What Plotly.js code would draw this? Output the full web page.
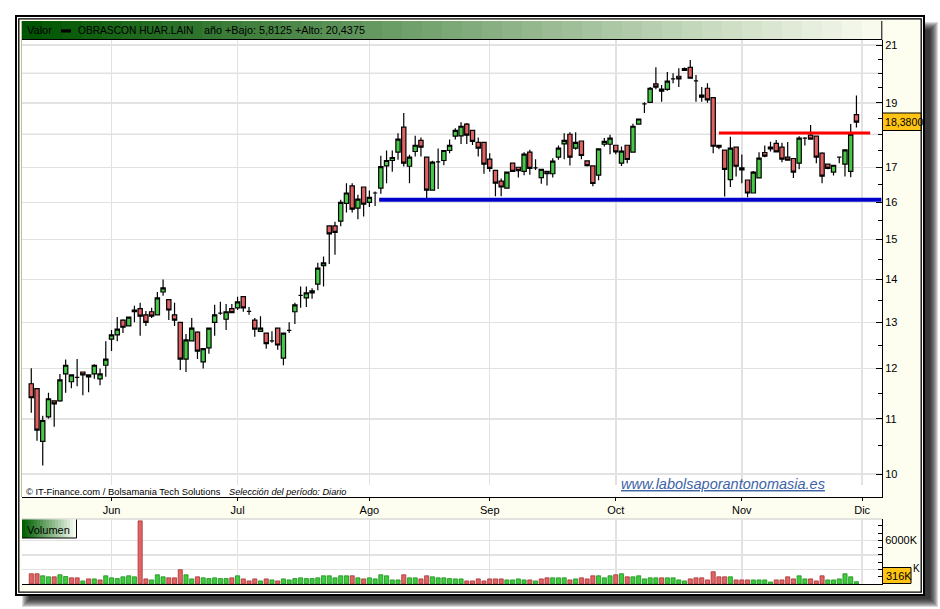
<!DOCTYPE html>
<html><head><meta charset="utf-8">
<script src="https://cdn.plot.ly/plotly-3.0.1.min.js"></script>
<style>html,body{margin:0;padding:0;background:#fff;}#chart{width:940px;height:609px;}</style>
</head><body><div id="chart"></div>
<script>
const dates = [
"2009-05-12","2009-05-13","2009-05-14","2009-05-15","2009-05-18","2009-05-19","2009-05-20","2009-05-21","2009-05-22","2009-05-25","2009-05-26","2009-05-27","2009-05-28","2009-05-29",
"2009-06-01","2009-06-02","2009-06-03","2009-06-04","2009-06-05","2009-06-08","2009-06-09","2009-06-10","2009-06-11","2009-06-12","2009-06-15","2009-06-16","2009-06-17","2009-06-18","2009-06-19","2009-06-22","2009-06-23","2009-06-24","2009-06-25","2009-06-26","2009-06-29","2009-06-30",
"2009-07-01","2009-07-02","2009-07-03","2009-07-06","2009-07-07","2009-07-08","2009-07-09","2009-07-10","2009-07-13","2009-07-14","2009-07-15","2009-07-16","2009-07-17","2009-07-20","2009-07-21","2009-07-22","2009-07-23","2009-07-24","2009-07-27","2009-07-28","2009-07-29","2009-07-30","2009-07-31",
"2009-08-03","2009-08-04","2009-08-05","2009-08-06","2009-08-07","2009-08-10","2009-08-11","2009-08-12","2009-08-13","2009-08-14","2009-08-17","2009-08-18","2009-08-19","2009-08-20","2009-08-21","2009-08-24","2009-08-25","2009-08-26","2009-08-27","2009-08-28","2009-08-31",
"2009-09-01","2009-09-02","2009-09-03","2009-09-04","2009-09-07","2009-09-08","2009-09-09","2009-09-10","2009-09-11","2009-09-14","2009-09-15","2009-09-16","2009-09-17","2009-09-18","2009-09-21","2009-09-22","2009-09-23","2009-09-24","2009-09-25","2009-09-28","2009-09-29","2009-09-30",
"2009-10-01","2009-10-02","2009-10-05","2009-10-06","2009-10-07","2009-10-08","2009-10-09","2009-10-12","2009-10-13","2009-10-14","2009-10-15","2009-10-16","2009-10-19","2009-10-20","2009-10-21","2009-10-22","2009-10-23","2009-10-26","2009-10-27","2009-10-28","2009-10-29","2009-10-30",
"2009-11-02","2009-11-03","2009-11-04","2009-11-05","2009-11-06","2009-11-09","2009-11-10","2009-11-11","2009-11-12","2009-11-13","2009-11-16","2009-11-17","2009-11-18","2009-11-19","2009-11-20","2009-11-23","2009-11-24","2009-11-25","2009-11-26","2009-11-27","2009-11-30"
];
const openP = [
11.69,11.59,10.58,11.04,11.35,11.35,11.89,11.73,11.82,11.93,11.87,11.89,11.79,12.07,
12.63,12.72,13.05,12.92,13.24,13.31,13.17,13.24,13.17,13.70,13.52,13.17,13.00,12.20,12.59,12.78,12.14,12.44,13.00,13.21,13.07,13.31,
13.33,13.59,13.25,13.05,12.80,12.76,12.59,12.87,12.22,12.82,13.24,13.62,13.56,13.68,13.89,14.34,15.36,15.36,15.49,15.97,16.46,15.84,16.43,
16.00,16.26,16.40,17.04,17.20,17.45,18.22,17.03,17.47,17.81,17.30,16.34,17.16,17.20,17.50,17.94,17.95,18.32,18.12,17.75,17.75,
17.24,16.91,16.60,16.40,17.12,17.00,16.88,17.45,16.98,16.70,16.88,16.81,17.30,17.70,18.00,17.57,17.79,17.19,17.04,16.77,17.69,17.69,
17.66,17.12,17.66,17.45,18.32,18.97,19.02,19.64,19.39,19.45,19.81,19.90,20.10,20.21,19.74,19.19,19.49,19.18,17.66,17.51,16.64,17.60,
16.98,16.63,16.26,16.69,17.44,17.60,17.72,17.60,17.30,17.26,17.12,17.88,17.97,17.94,17.42,17.09,16.86,17.30,17.09,16.88,18.62
];
const highP = [
12.01,11.60,11.06,11.51,11.36,11.89,12.19,11.88,12.20,11.94,11.88,12.09,12.00,12.58,
12.83,13.12,13.07,13.13,13.38,13.45,13.26,13.33,13.70,14.00,13.53,13.45,13.01,12.74,13.10,12.80,12.43,12.87,13.40,13.47,13.42,13.42,
13.59,13.59,13.35,13.10,13.14,12.76,12.80,12.87,12.76,13.00,13.45,13.83,13.83,13.79,14.41,14.57,15.36,15.47,16.07,16.54,16.54,16.21,16.43,
16.33,16.30,17.34,17.50,17.50,18.03,18.67,17.37,17.95,17.90,17.30,17.19,17.56,17.50,17.84,18.19,18.38,18.35,18.12,17.90,17.75,
17.42,16.91,16.67,16.86,17.12,17.00,17.45,17.52,17.24,16.94,16.88,17.27,17.65,18.03,18.06,18.06,17.79,17.19,17.04,17.55,17.88,17.98,
17.66,17.62,17.66,18.33,18.48,19.02,19.53,20.21,19.60,20.05,20.00,20.18,20.20,20.47,19.94,19.53,19.66,19.18,17.66,17.51,17.92,17.60,
17.38,16.63,16.89,17.45,17.65,17.77,17.82,17.74,17.76,17.26,17.94,17.91,18.29,17.94,17.45,17.09,17.06,17.30,17.52,18.32,19.25
];
const lowP = [
11.12,10.59,10.15,11.01,10.85,11.33,11.51,11.60,11.64,11.46,11.52,11.79,11.66,11.83,
12.37,12.58,12.76,12.91,13.00,12.70,12.92,13.10,13.16,13.61,13.05,12.92,11.97,11.93,12.58,12.20,12.00,12.31,12.70,13.17,12.83,13.22,
13.28,13.24,13.17,12.68,12.80,12.42,12.55,12.40,12.07,12.76,12.96,13.33,13.35,13.54,13.74,13.83,14.38,14.61,15.35,15.72,15.72,15.54,15.61,
15.87,15.90,16.24,16.54,16.87,17.22,17.02,16.54,17.32,17.32,16.11,16.34,16.37,17.06,17.42,17.84,17.70,17.70,17.67,17.32,16.81,
16.87,16.17,16.17,16.40,16.87,16.70,16.77,16.78,16.92,16.52,16.47,16.70,17.22,17.24,17.05,17.52,17.24,17.02,16.45,16.62,17.62,17.39,
17.39,17.04,17.12,17.45,18.32,18.67,19.02,19.46,19.04,19.41,19.66,19.53,20.10,19.83,19.04,19.04,19.01,17.42,17.54,16.16,16.43,16.73,
16.54,16.14,16.26,16.69,17.30,17.47,17.46,17.15,17.19,16.69,16.94,17.65,17.85,17.12,16.54,16.94,16.76,17.12,16.73,16.71,18.21
];
const closeP = [
11.41,10.79,10.97,11.39,11.29,11.77,12.07,11.87,11.82,11.87,11.83,12.07,11.89,12.20,
12.72,12.85,12.89,13.12,13.28,13.14,13.00,13.14,13.56,13.80,13.28,13.05,12.20,12.61,12.87,12.37,12.42,12.87,13.17,13.21,13.24,13.22,
13.47,13.33,13.25,12.85,12.87,12.53,12.59,12.50,12.76,12.82,13.40,13.62,13.68,13.73,14.28,14.41,15.15,15.19,16.00,16.26,15.81,16.09,15.95,
16.14,16.26,17.02,17.20,17.29,17.85,17.12,17.30,17.66,17.60,16.34,17.15,17.16,17.50,17.66,18.12,18.25,17.97,17.78,17.57,17.09,
16.97,16.54,16.43,16.86,16.88,16.90,17.39,16.97,16.98,16.94,16.81,17.18,17.57,17.81,17.30,17.75,17.35,17.05,16.53,17.55,17.78,17.88,
17.46,17.48,17.23,18.25,18.48,18.97,19.49,19.53,19.46,19.73,19.81,19.81,20.16,19.83,19.74,19.26,19.10,17.63,17.60,16.94,17.57,17.03,
16.92,16.26,16.86,17.27,17.33,17.55,17.46,17.24,17.21,16.86,17.88,17.88,17.85,17.30,16.74,16.97,17.06,17.30,17.52,18.00,18.38
];
const volumeK = [
1410,1410,1130,990,990,1270,1030,850,850,420,700,700,560,1130,
850,750,990,1130,990,8690,700,560,1270,990,850,850,1970,1270,700,990,850,750,850,750,750,850,
1130,700,420,700,420,700,560,420,700,560,750,850,750,750,850,1130,1130,850,1130,1130,1130,850,700,
850,700,1270,1130,560,560,1270,850,850,700,1130,990,850,850,750,700,700,420,420,700,420,
700,700,700,560,560,700,560,560,420,700,850,850,850,850,560,700,850,700,1130,1130,850,1130,
1270,1410,990,990,1130,700,850,850,850,850,850,560,420,700,850,850,560,1690,990,990,990,560,
560,560,560,560,560,280,560,560,990,700,1130,700,700,420,1130,560,560,700,1410,990,316
];
const monthTickDates = ["2009-06-01","2009-07-01","2009-08-03","2009-09-01","2009-10-01","2009-11-02","2009-12-01"];
const monthLabels = ["Jun","Jul","Ago","Sep","Oct","Nov","Dic"];
const priceTicks = [10,11,12,13,14,15,16,17,19,21];
const priceMinorTicks = [10.5,11.5,12.5,13.5,14.5,15.5,16.5,17.5,18,18.5,19.5,20,20.5];
const priceUnlabeledGrid = [18,20];
const volTicks = [2000,4000,6000];
const volTickText = ["","","6000K"];
const volMinorTicks = [1000,3000,5000,7000,8000];
const supportLevel = 16.07, supportStart = "2009-08-05";
const resistanceLevel = 18.04, resistanceStart = "2009-10-27";
const lastPriceText = "18,3800", lastVolText = "316K";

const W = 940, H = 609;
const X = p => p / W, Y = p => 1 - p / H;
const FONT = "Liberation Sans, Arial, sans-serif";
const xs = dates.map((d, i) => i);
const idxOf = d => { const k = dates.indexOf(d); return k < 0 ? dates.length : k; };
const monthIdx = monthTickDates.map(idxOf);
const xMin = -1.62, xMax = 148.46;
const volColors = closeP.map((c, i) => (i === 0 ? c >= openP[0] : c >= closeP[i - 1]) ? '#3ccc3c' : '#e06464');
const volLines = volColors.map(c => c === '#3ccc3c' ? '#1f8f1f' : '#a83434');

const candles = {
  type: 'candlestick', x: xs, open: openP, high: highP, low: lowP, close: closeP,
  xaxis: 'x', yaxis: 'y', whiskerwidth: 0, hoverinfo: 'skip',
  increasing: {line: {color: '#000', width: 1.2}, fillcolor: '#48c848'},
  decreasing: {line: {color: '#000', width: 1.2}, fillcolor: '#e06262'}
};
const supX0 = idxOf(supportStart) - 0.3;
const support = {type: 'scatter', mode: 'lines', x: [supX0, xMax - 0.1], y: [supportLevel, supportLevel],
  xaxis: 'x', yaxis: 'y', line: {color: '#0000c8', width: 4}, hoverinfo: 'skip'};
const resistance = {type: 'scatter', mode: 'lines', x: [idxOf(resistanceStart), dates.length + 1.4], y: [resistanceLevel, resistanceLevel],
  xaxis: 'x', yaxis: 'y', line: {color: '#ff0000', width: 3}, hoverinfo: 'skip'};
const vol = {type: 'bar', x: xs, y: volumeK, xaxis: 'x2', yaxis: 'y2',
  marker: {color: volColors, line: {color: volLines, width: 0.8}}, hoverinfo: 'skip'};

const P = (o) => Object.assign({xref: 'paper', yref: 'paper', layer: 'below'}, o);
const A = (o) => Object.assign({xref: 'paper', yref: 'paper', layer: 'above'}, o);
const shapes = [];
// shadow
for (let s = 0; s < 9; s++) {
  shapes.push(P({type: 'rect', x0: X(22 + s), x1: X(938 - s), y0: Y(22 + s), y1: Y(607 - s),
    fillcolor: 'rgba(0,0,0,0.15)', line: {width: 0}}));
}
// frames
shapes.push(P({type: 'rect', x0: X(16), x1: X(924), y0: Y(16), y1: Y(595), fillcolor: '#ffffff', line: {color: '#000', width: 2}}));
shapes.push(P({type: 'rect', x0: X(18.8), x1: X(921.2), y0: Y(18.8), y1: Y(592.2), fillcolor: '#fdfdf0', line: {color: '#000', width: 1.3}}));
// plot areas
shapes.push(P({type: 'rect', x0: X(22), x1: X(882), y0: Y(40), y1: Y(497), fillcolor: '#ffffff', line: {width: 0}}));
shapes.push(P({type: 'rect', x0: X(22), x1: X(882), y0: Y(519), y1: Y(584), fillcolor: '#ffffff', line: {width: 0}}));
shapes.push(P({type: 'line', x0: X(21.5), x1: X(21.5), y0: Y(21), y1: Y(497), line: {color: '#b9c3a2', width: 1}}));
shapes.push(P({type: 'line', x0: X(22), x1: X(882), y0: Y(519), y1: Y(519), line: {color: '#c8c8c8', width: 1}}));
// header gradient
const hx0 = 22, hx1 = 882, steps = 43;
for (let k = 0; k < steps; k++) {
  const t = k / (steps - 1);
  const r = Math.round(t * 248), g = Math.round(85 + t * 165), b = Math.round(t * 238);
  shapes.push(P({type: 'rect', x0: X(hx0 + k * (hx1 - hx0) / steps), x1: X(hx0 + (k + 1) * (hx1 - hx0) / steps + 0.6),
    y0: Y(21), y1: Y(39), fillcolor: `rgb(${r},${g},${b})`, line: {width: 0}}));
}
shapes.push(P({type: 'line', x0: X(22), x1: X(882), y0: Y(39.5), y1: Y(39.5), line: {color: '#000', width: 1}}));
shapes.push(P({type: 'line', x0: X(881.8), x1: X(881.8), y0: Y(21), y1: Y(40), line: {color: '#000', width: 1}}));
shapes.push(P({type: 'rect', x0: X(61), x1: X(71), y0: Y(29.3), y1: Y(32.5), fillcolor: '#000', line: {width: 0}}));
// unlabeled price gridlines (18, 20)
priceUnlabeledGrid.forEach(v => shapes.push({type: 'line', xref: 'x domain', yref: 'y', layer: 'below', x0: 0, x1: 1, y0: v, y1: v,
  line: {color: '#e2e2e2', width: 1.5}}));
// white band at bottom of price plot behind the credits
shapes.push(A({type: 'rect', x0: X(22.5), x1: X(881.3), y0: Y(485), y1: Y(496.4), fillcolor: '#ffffff', line: {width: 0}}));
// Volumen label box gradient
for (let k = 0; k < 18; k++) {
  const t = k / 17;
  const r = Math.round(t * 245), g = Math.round(95 + t * 155), b = Math.round(t * 240);
  shapes.push(A({type: 'rect', x0: X(22 + k * 3), x1: X(22 + (k + 1) * 3 + 0.5), y0: Y(519.5), y1: Y(538),
    fillcolor: `rgb(${r},${g},${b})`, line: {width: 0}}));
}
shapes.push(A({type: 'line', x0: X(22), x1: X(76.5), y0: Y(538), y1: Y(538), line: {color: '#000', width: 1}}));
shapes.push(A({type: 'line', x0: X(76.5), x1: X(76.5), y0: Y(519.5), y1: Y(538), line: {color: '#000', width: 1}}));
// last value boxes
shapes.push(A({type: 'rect', x0: X(882.5), x1: X(921), y0: Y(113), y1: Y(130.5), fillcolor: '#ffc414', line: {color: '#000', width: 1}}));
shapes.push(A({type: 'rect', x0: X(882.5), x1: X(911), y0: Y(567.5), y1: Y(583.5), fillcolor: '#ffc414', line: {color: '#000', width: 1}}));

const ann = (x, y, text, size, extra) => Object.assign({xref: 'paper', yref: 'paper', x: X(x), y: Y(y), text: text,
  showarrow: false, xanchor: 'left', yanchor: 'middle', font: {family: FONT, size: size, color: '#000'}}, extra || {});
const annotations = [
  ann(25, 30.5, 'Valor', 11),
  ann(75.5, 30.5, 'OBRASCON HUAR.LAIN', 10.2),
  ann(202, 30.5, 'año +Bajo: 5,8125 +Alto: 20,4375', 10.8),
  ann(23.5, 491.5, '© IT-Finance.com / Bolsamania Tech Solutions', 9.4),
  ann(226.5, 491.5, 'Selección del período: Diario', 9.2, {font: {family: FONT, size: 9.2, color: '#000', style: 'italic'}}),
  ann(619, 484, 'www.labolsaporantonomasia.es', 14.5, {font: {family: FONT, size: 14.5, color: '#3d63a6', style: 'italic', lineposition: 'under'}}),
  ann(24.5, 529.5, 'Volumen', 11),
  ann(883, 122, lastPriceText, 10.6),
  ann(883.5, 575.5, lastVolText, 11),
  ann(910.5, 568.5, 'K', 10)
];

const axisFont = {family: FONT, size: 11, color: '#000'};
const layout = {
  width: W, height: H, margin: {l: 0, r: 0, t: 0, b: 0}, autosize: false,
  paper_bgcolor: '#ffffff', plot_bgcolor: 'rgba(0,0,0,0)',
  showlegend: false, hovermode: false, dragmode: false,
  boxgap: 0.25, boxgroupgap: 0, bargap: 0.28,
  xaxis: {domain: [X(22), X(882)], range: [xMin, xMax], type: 'linear', anchor: 'y',
    tickmode: 'array', tickvals: monthIdx, ticktext: monthLabels, ticks: 'outside', ticklen: 3, tickcolor: '#000',
    showline: true, linecolor: '#000', linewidth: 1, showgrid: true, gridcolor: '#e2e2e2', gridwidth: 1.5,
    zeroline: false, tickfont: axisFont, rangeslider: {visible: false}, fixedrange: true},
  yaxis: {domain: [Y(497), Y(40)], type: 'log', range: [0.98272, 1.32607], side: 'right', anchor: 'x',
    tickmode: 'array', tickvals: priceTicks, ticktext: priceTicks.map(String), ticks: 'inside', ticklen: 6, tickcolor: '#000',
    showline: true, linecolor: '#000', linewidth: 1, showgrid: true, gridcolor: '#e2e2e2', gridwidth: 1.5,
    zeroline: false, tickfont: axisFont, fixedrange: true,
    minor: {tickmode: 'array', tickvals: priceMinorTicks, ticks: 'inside', ticklen: 4, tickcolor: '#000', showgrid: false}},
  xaxis2: {domain: [X(22), X(882)], range: [xMin, xMax], matches: 'x', type: 'linear', anchor: 'y2',
    tickmode: 'array', tickvals: monthIdx, showticklabels: false, ticks: '',
    showline: true, linecolor: '#000', linewidth: 1, showgrid: true, gridcolor: '#e2e2e2', gridwidth: 1.5,
    zeroline: false, fixedrange: true},
  yaxis2: {domain: [Y(584), Y(519)], range: [0, 8950], side: 'right', anchor: 'x2',
    tickmode: 'array', tickvals: volTicks, ticktext: volTickText, ticks: 'inside', ticklen: 4, tickcolor: '#000',
    showline: true, linecolor: '#000', linewidth: 1, showgrid: true, gridcolor: '#e2e2e2', gridwidth: 1.5,
    zeroline: false, tickfont: axisFont, fixedrange: true,
    minor: {tickmode: 'array', tickvals: volMinorTicks, ticks: 'inside', ticklen: 4, tickcolor: '#000', showgrid: false}},
  shapes: shapes, annotations: annotations
};
Plotly.newPlot('chart', [candles, support, resistance, vol], layout, {displayModeBar: false, staticPlot: true});
</script></body></html>
